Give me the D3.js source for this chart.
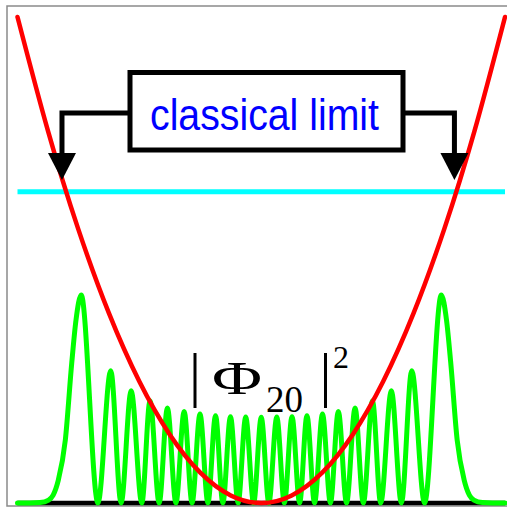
<!DOCTYPE html>
<html><head><meta charset="utf-8">
<script src="https://cdn.jsdelivr.net/npm/d3@7"></script>
<style>html,body{margin:0;padding:0;background:#fff;overflow:hidden}</style>
</head><body><svg id="c" width="507" height="512"></svg>
<script>
// ---- data ----
const potentialX = [-8,-7,-6,-5,-4,-3,-2,-1,0,1,2,3,4,5,6,7,8];
const potentialV = [32,24.5,18,12.5,8,4.5,2,0.5,0,0.5,2,4.5,8,12.5,18,24.5,32];
const energyLevel = 20.5;
const arrowPositions = [-6.54, 6.34];
const densityX = [-8.0,-7.59,-7.26,-6.98,-6.83,-6.66,-6.43,-6.22,-6.08,-5.91,
  -5.36,-4.94,-4.60,-4.27,-3.92,-3.65,-3.35,-3.08,-2.80,-2.53,-2.27,-2.01,-1.75,-1.50,
  -1.26,-1.01,-0.76,-0.51,-0.25,0,0.25,0.51,0.76,1.01,1.26,1.50,1.75,2.01,2.27,2.53,
  2.80,3.08,3.35,3.65,3.92,4.27,4.60,4.94,5.36,5.91,6.08,6.22,6.43,6.66,6.83,6.98,7.26,7.59,8.0];
const densityY = [0,0,0.002,0.014,0.038,0.11,0.303,0.673,0.88,1.0,
  0,0.636,0,0.54,0,0.492,0,0.457,0,0.44,0,0.428,0,0.42,
  0,0.415,0,0.413,0,0.412,0,0.413,0,0.415,0,0.42,0,0.428,0,0.44,
  0,0.457,0,0.492,0,0.54,0,0.636,0,1.0,0.88,0.673,0.303,0.11,0.038,0.014,0.002,0,0];
const boxLabel = "classical limit";
const stateIndex = "20";

// ---- scales ----
const svg = d3.select("#c");
const x = d3.scaleLinear().domain([-8, 8]).range([17.5, 505]);
const yE = d3.scaleLinear().domain([0, 32]).range([503, 17]);
const yD = d3.scaleLinear().domain([0, 1]).range([503, 295]);

// frame
svg.append("rect").attr("x", 7).attr("y", 6).attr("width", 510).attr("height", 500)
  .attr("fill", "none").attr("stroke", "#8a8a8a").attr("stroke-width", 1.5);

// baseline
svg.append("line").attr("x1", x(-8)).attr("x2", x(8)).attr("y1", yE(0)).attr("y2", yE(0))
  .attr("stroke", "#000").attr("stroke-width", 4.5);

// density curve
const dens = densityX.map((v, i) => [v, densityY[i]]);
svg.append("path").datum(dens)
  .attr("d", d3.line().x(d => x(d[0])).y(d => yD(d[1])).curve(d3.curveMonotoneX))
  .attr("fill", "none").attr("stroke", "#00ff00").attr("stroke-width", 5)
  .attr("stroke-linejoin", "round").attr("stroke-linecap", "round");

// energy line
svg.append("line").attr("x1", x(-8)).attr("x2", x(8)).attr("y1", yE(energyLevel)).attr("y2", yE(energyLevel))
  .attr("stroke", "#00ffff").attr("stroke-width", 5);

// potential
const pot = potentialX.map((v, i) => [v, potentialV[i]]);
svg.append("path").datum(pot)
  .attr("d", d3.line().x(d => x(d[0])).y(d => yE(d[1])).curve(d3.curveNatural))
  .attr("fill", "none").attr("stroke", "#ff0000").attr("stroke-width", 4.5)
  .attr("stroke-linejoin", "round").attr("stroke-linecap", "round");

// annotation box
const box = {x: 130, y: 72.5, w: 273, h: 77.5, cy: 113};
svg.append("rect").attr("x", box.x).attr("y", box.y).attr("width", box.w).attr("height", box.h)
  .attr("fill", "#fff").attr("stroke", "#000").attr("stroke-width", 5);
svg.append("text").attr("x", 150).attr("y", 130)
  .attr("font-family", "Liberation Sans, Arial, sans-serif").attr("font-size", 45)
  .attr("textLength", 229).attr("lengthAdjust", "spacingAndGlyphs")
  .attr("fill", "#0000ff").text(boxLabel);

// connectors + arrowheads
const arrowTop = 153, arrowTip = 180, halfW = 14;
arrowPositions.forEach((p, i) => {
  const ax = x(p);
  const bx = i === 0 ? box.x : box.x + box.w;
  svg.append("path").attr("d", `M${bx},${box.cy}H${ax}V${arrowTop + 2}`)
    .attr("fill", "none").attr("stroke", "#000").attr("stroke-width", 5);
  svg.append("path").attr("d", `M${ax - halfW},${arrowTop}L${ax + halfW},${arrowTop}L${ax},${arrowTip}Z`)
    .attr("fill", "#000");
});

// label |Φ20|^2
const lab = svg.append("g");
[195, 325.5].forEach(bx => lab.append("line").attr("x1", bx).attr("x2", bx).attr("y1", 353).attr("y2", 408)
  .attr("stroke", "#000").attr("stroke-width", 3));
lab.append("text").attr("x", 212).attr("y", 393.5)
  .attr("font-family", "Liberation Serif, Times New Roman, serif").attr("font-size", 46)
  .attr("textLength", 50).attr("lengthAdjust", "spacingAndGlyphs").text("Φ");
lab.append("text").attr("x", 266).attr("y", 411.7)
  .attr("font-family", "Liberation Serif, Times New Roman, serif").attr("font-size", 37).text(stateIndex);
lab.append("text").attr("x", 333).attr("y", 367.5)
  .attr("font-family", "Liberation Serif, Times New Roman, serif").attr("font-size", 32).text("2");
</script></body></html>
